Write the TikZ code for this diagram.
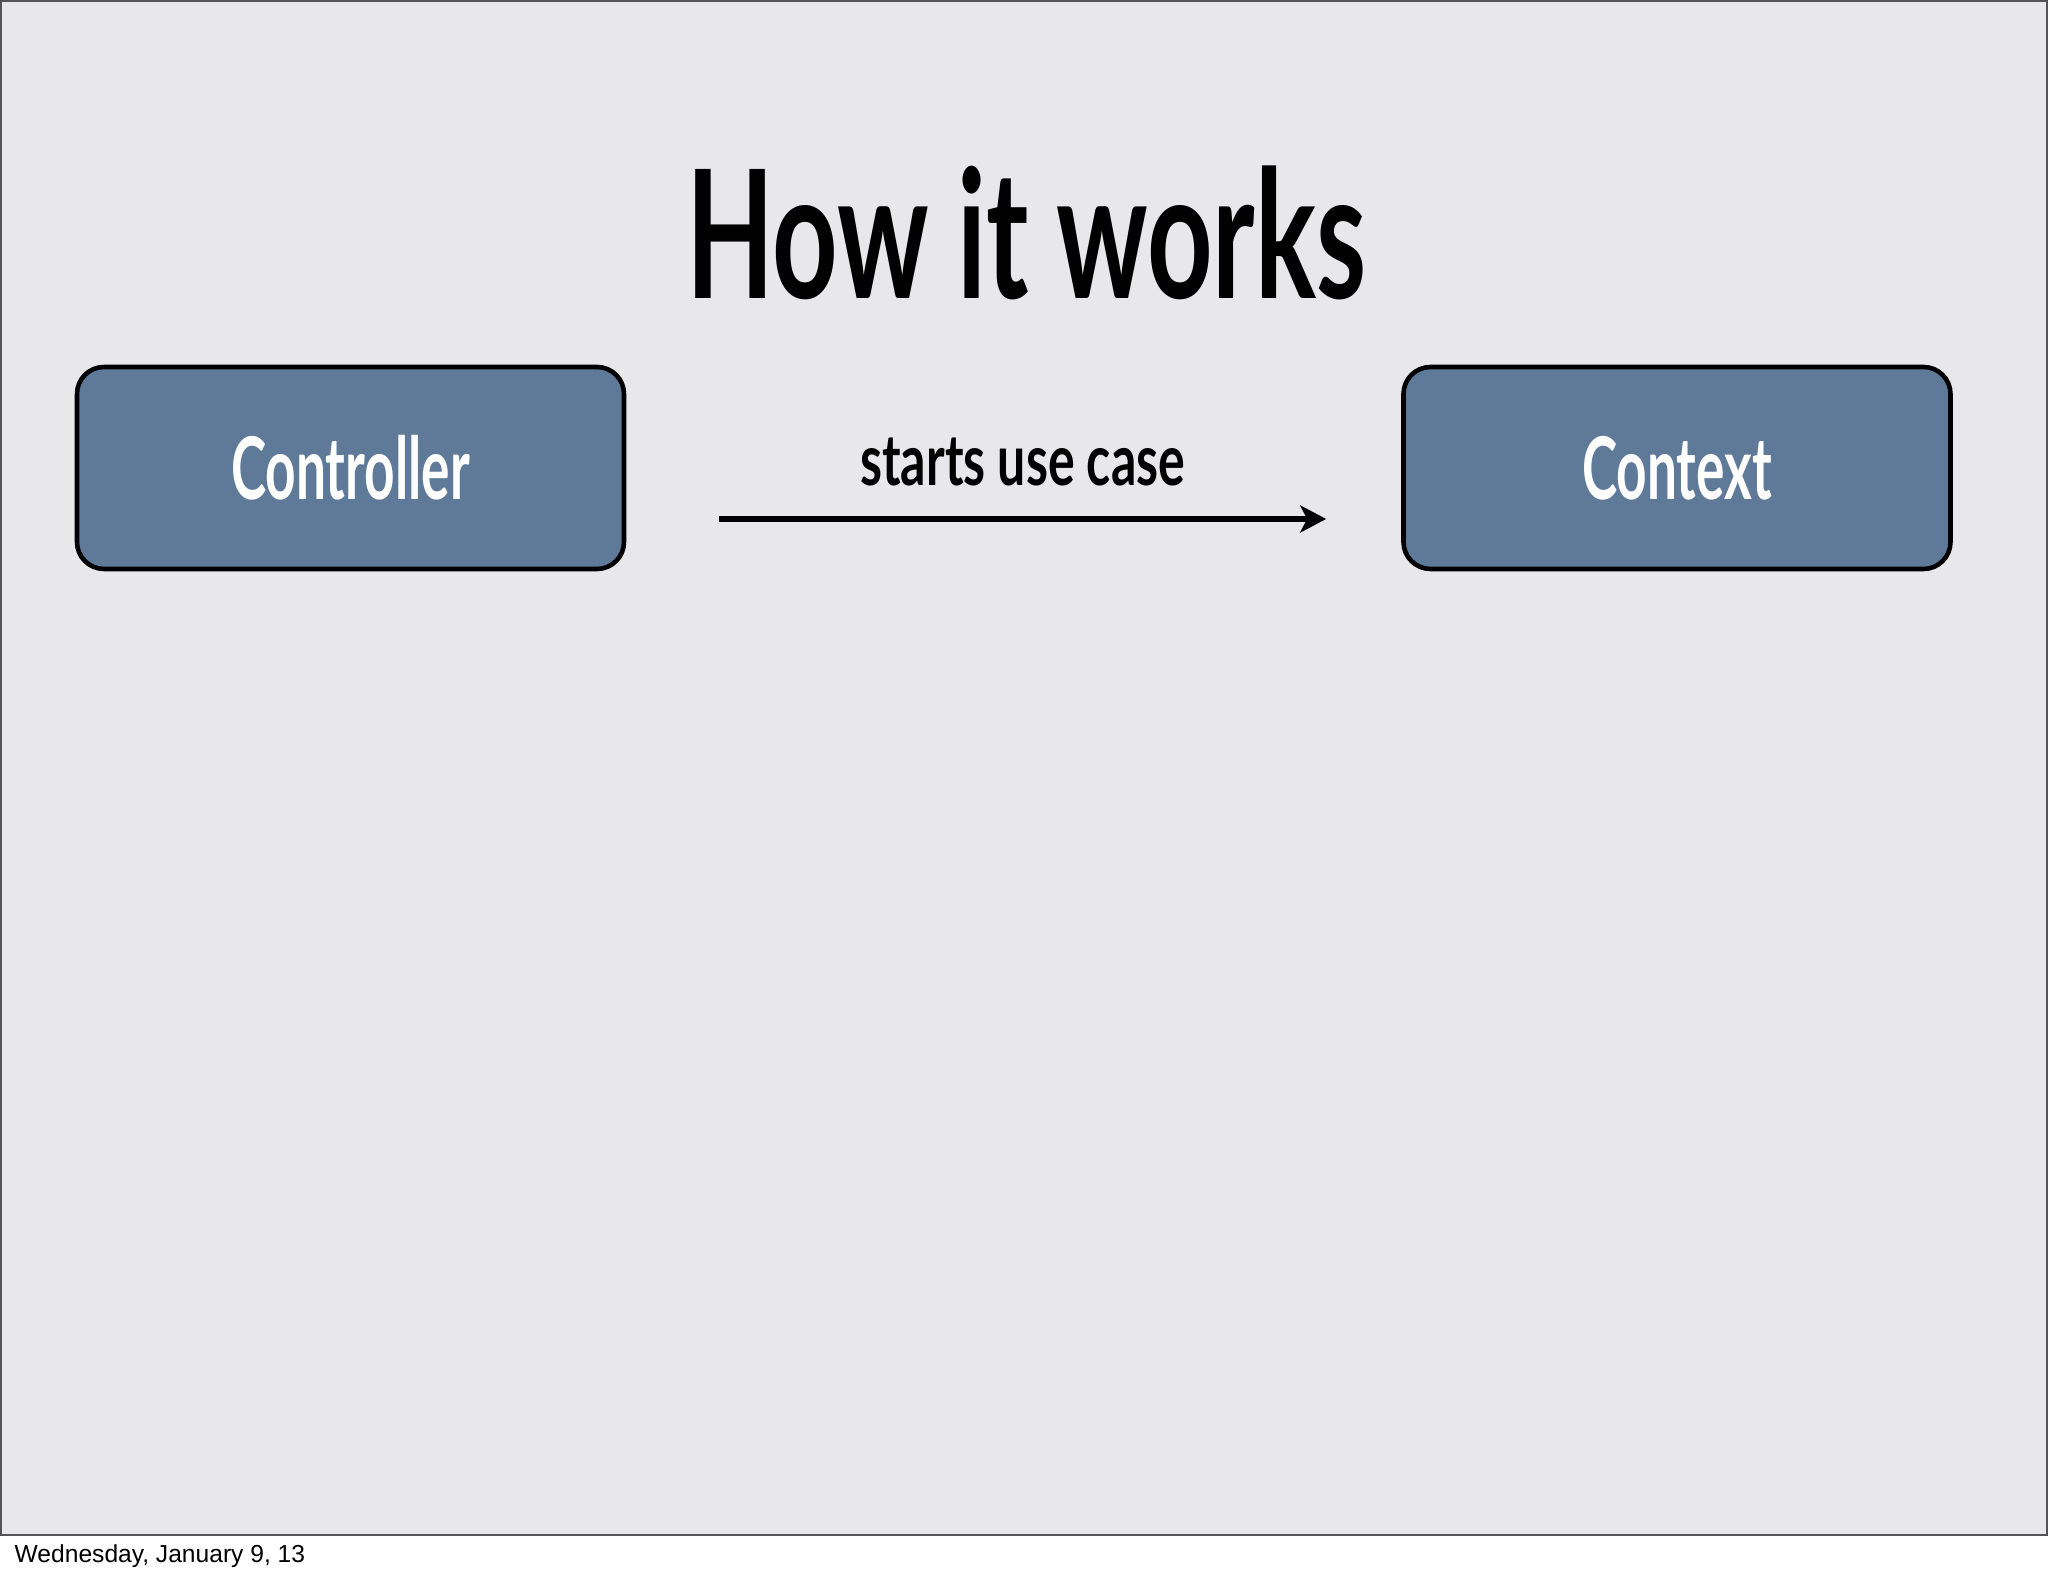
\documentclass[tikz,border=0pt]{standalone}
\usepackage{fontspec}
\setmainfont{Liberation Sans}
\newfontfamily\headfont[FakeStretch=0.64]{Lato}
\newfontfamily\boxfont[FakeStretch=0.615]{Lato}
\newfontfamily\labelfont[FakeStretch=0.705]{Lato}
\usetikzlibrary{arrows.meta,calc}
\definecolor{slidegray}{RGB}{232,231,233}
\definecolor{boxblue}{RGB}{95,121,152}
\definecolor{framegray}{RGB}{85,85,85}
\tikzstyle{box}=[rectangle,rounded corners=0.27cm,fill=boxblue,draw=black,line width=1.3pt,minimum width=5.47cm,minimum height=2.02cm,text=white,font=\boxfont\bfseries\fontsize{24.6}{26}\selectfont]
\tikzstyle{flow}=[draw,line width=1.7pt,-{Stealth[length=0.26cm,width=0.27cm,inset=0.07cm]}]
\tikzstyle{flowlabel}=[font=\labelfont\bfseries\fontsize{20.2}{22}\selectfont,anchor=base,inner sep=0pt]
\begin{document}
\begin{tikzpicture}
    \useasboundingbox (0,0) rectangle (20.48,15.76);
    \fill[white] (0,0) rectangle (20.48,15.76);
    \draw[fill=slidegray,draw=framegray,line width=0.8pt] (0.01,0.41) rectangle (20.47,15.75);

    \node[font=\headfont\bfseries\fontsize{50.8}{54}\selectfont,anchor=base,inner sep=0pt] (title) at (10.265,12.77) {How it works};

    \foreach \pos/ \name/ \txt in {{(3.505,11.08)/ctrl/Controller}, {(16.77,11.08)/ctx/Context}}
        \node[box] (\name) at \pos {\txt};

    % use case arrow between the two boxes
    \coordinate (from) at ($(ctrl.east)+(0.93,-0.51)$);
    \coordinate (to) at ($(ctx.west)+(-0.75,-0.51)$);
    \path[flow] (from) -- node[flowlabel,yshift=0.33cm] {starts use case} (to);

    \node[anchor=base west,inner sep=0pt,font=\fontsize{7.0}{8}\selectfont] (date) at (0.14,0.13) {Wednesday, January 9, 13};
\end{tikzpicture}
\end{document}
